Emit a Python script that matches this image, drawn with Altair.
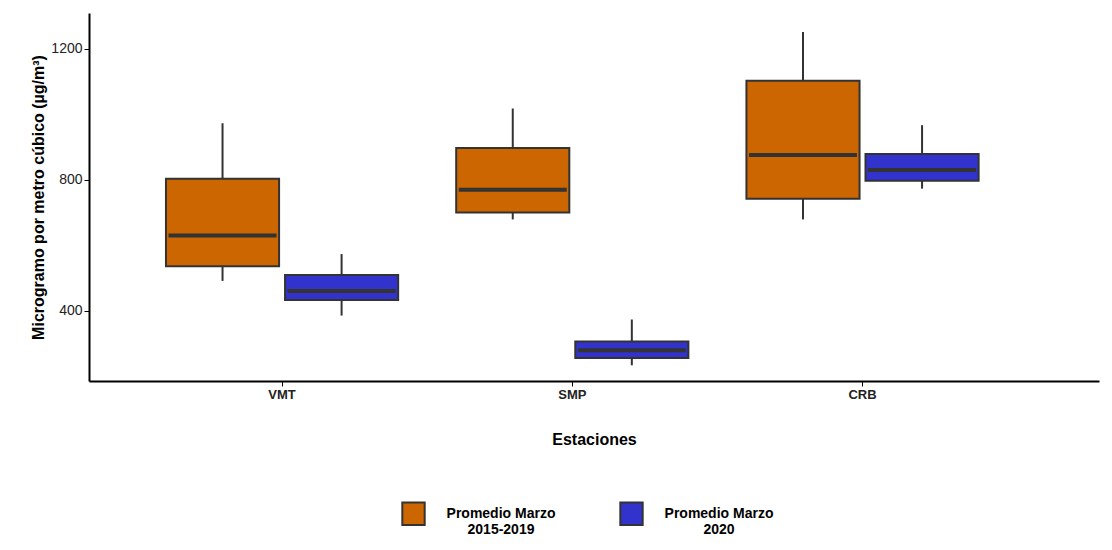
import altair as alt
import pandas as pd

stations = ["VMT", "VMT", "SMP", "SMP", "CRB", "CRB"]
series = ["Promedio Marzo\n2015-2019", "Promedio Marzo\n2020"] * 3
lower = [491, 385, 679, 233, 679, 773]
q1 = [536, 433, 700, 255, 742, 797]
median = [630, 460, 770, 279, 876, 830]
q3 = [803, 509, 897, 306, 1103, 879]
upper = [973, 573, 1018, 373, 1252, 967]

df = pd.DataFrame(dict(station=stations, serie=series, lower=lower, q1=q1,
                       median=median, q3=q3, upper=upper))

xenc = alt.X("station:N", sort=["VMT", "SMP", "CRB"], title="Estaciones",
             scale=alt.Scale(paddingInner=0.2, paddingOuter=0.34, align=0.39),
             axis=alt.Axis(labelAngle=0, labelFontWeight="bold", labelFontSize=13,
                           labelColor="#222", titleFontSize=16, titleFontWeight="bold",
                           titlePadding=30, domainColor="black", domainWidth=2,
                           tickColor="black", tickSize=5))
xoff = alt.XOffset("serie:N", scale=alt.Scale(paddingInner=0.05))
yscale = alt.Scale(domain=[185, 1310], nice=False, zero=False)
yenc = alt.Y("lower:Q", scale=yscale, title="Microgramo por metro cúbico (µg/m³)",
             axis=alt.Axis(values=[400, 800, 1200], format="d", grid=False, labelFontSize=14,
                           labelColor="#222", titleFontSize=16, titleFontWeight="bold",
                           domainColor="black", domainWidth=2, tickColor="black"))
colors = alt.Scale(domain=series[:2], range=["#CC6600", "#3232CC"])

base = alt.Chart(df)
whisk = base.mark_rule(color="#333", strokeWidth=2).encode(x=xenc, xOffset=xoff, y=yenc, y2="upper:Q")
box = base.mark_bar(stroke="#333", strokeWidth=2, opacity=1).encode(
    x=xenc, xOffset=xoff, y=alt.Y("q1:Q", scale=yscale), y2="q3:Q",
    color=alt.Color("serie:N", scale=colors, title=None,
                    legend=alt.Legend(orient="none", legendX=312, legendY=488,
                                      direction="horizontal",
                                      symbolType="square", symbolSize=500,
                                      symbolStrokeColor="#333", symbolStrokeWidth=2,
                                      labelFontSize=14, labelFontWeight="bold",
                                      labelExpr="split(datum.label, '\\n')",
                                      labelAlign="center", labelOffset=75,
                                      columnPadding=60)))
med = base.mark_tick(color="#333", thickness=4, size=108, opacity=1).encode(
    x=xenc, xOffset=xoff, y=alt.Y("median:Q", scale=yscale))

chart = alt.layer(whisk, box, med).properties(
    width=1010, height=368, padding={"left": 22, "top": 5, "right": 5, "bottom": 5}
).configure_view(stroke=None)
chart.save("out.html", embed_options={"renderer": "svg", "actions": False})
